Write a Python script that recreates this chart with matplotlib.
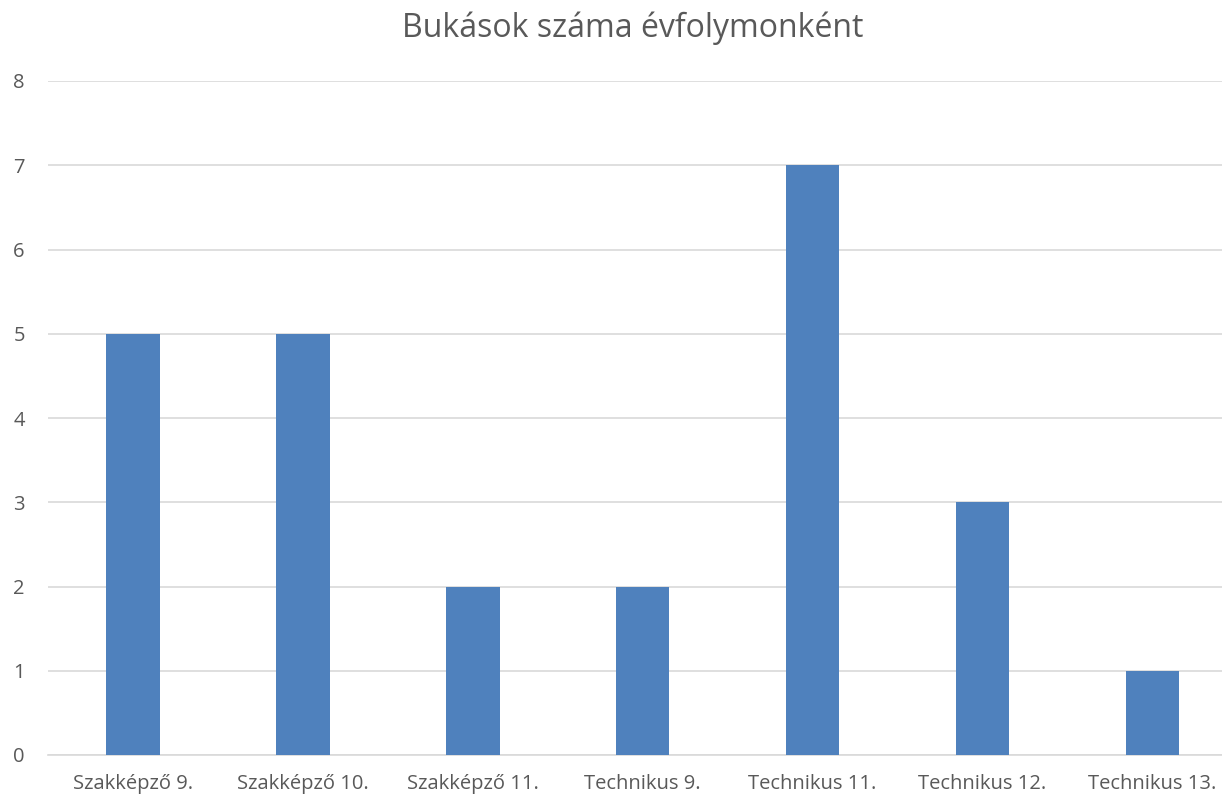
import matplotlib
matplotlib.use("Agg")
import matplotlib.pyplot as plt
import numpy as np

categories = ["Szakképző 9.", "Szakképző 10.", "Szakképző 11.", "Technikus 9.",
              "Technikus 11.", "Technikus 12.", "Technikus 13."]
values = [5, 5, 2, 2, 7, 3, 1]
y_ticks = [0, 1, 2, 3, 4, 5, 6, 7, 8]
title = "Bukások száma évfolymonként"

plt.rcParams['font.family'] = ['Open Sans', 'DejaVu Sans']

fig = plt.figure(figsize=(12.22, 7.98), dpi=100)
ax = fig.add_axes([48 / 1222, 1 - 755 / 798, 1 - 48 / 1222, (755 - 81) / 798])

x = np.arange(len(categories))
ax.bar(x, values, width=0.315, color='#4F81BD', zorder=3)

ax.set_ylim(0, 8)
ax.set_xlim(-0.5, len(categories) - 0.5 - 0.09)
ax.set_yticks(y_ticks)
ax.set_xticks(x)
ax.set_xticklabels(categories)
ax.grid(axis='y', color='#D9D9D9', linewidth=1.2, zorder=0)
ax.tick_params(axis='both', length=0, labelsize=14.5, colors='#595959')
ax.tick_params(axis='x', pad=14)
ax.tick_params(axis='y', pad=25)
for lab in ax.get_yticklabels():
    lab.set_horizontalalignment('left')

for side in ['top', 'right', 'left']:
    ax.spines[side].set_visible(False)
ax.spines['bottom'].set_color('#D9D9D9')
ax.spines['bottom'].set_linewidth(1.2)

fig.text(0.518, 0.965, title, ha='center', va='center', fontsize=23, color='#595959')

fig.savefig("out.png", dpi=100)
